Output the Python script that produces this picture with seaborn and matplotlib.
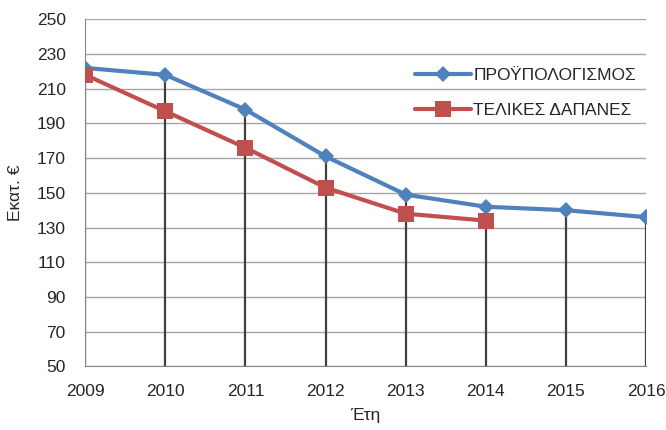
import numpy as np
import pandas as pd
import seaborn as sns
import matplotlib.pyplot as plt

years = [2009, 2010, 2011, 2012, 2013, 2014, 2015, 2016]
budget = [222, 218, 198, 171, 149, 142, 140, 136]
spent_years = [2009, 2010, 2011, 2012, 2013, 2014]
spent = [218, 197, 176, 153, 138, 134]
labels = ['ΠΡΟΫΠΟΛΟΓΙΣΜΟΣ', 'ΤΕΛΙΚΕΣ ΔΑΠΑΝΕΣ']

sns.set_style('white')
plt.rcParams['font.family'] = ['Liberation Sans', 'DejaVu Sans']

df = pd.concat([
    pd.DataFrame({'year': years, 'value': budget, 'series': labels[0]}),
    pd.DataFrame({'year': spent_years, 'value': spent, 'series': labels[1]}),
])

fig, ax = plt.subplots(figsize=(6.66, 4.3), dpi=100)
fig.subplots_adjust(left=0.128, right=0.97, top=0.955, bottom=0.148)

# drop lines from the highest point of each year down to the axis
tops = df.groupby('year')['value'].max()
ax.vlines(tops.index, 50, tops.values, color='#404040', lw=1.6, zorder=2)

sns.lineplot(data=df, x='year', y='value', hue='series', style='series',
             markers={labels[0]: 'D', labels[1]: 's'}, dashes=False,
             palette={labels[0]: '#4F81BD', labels[1]: '#C0504D'},
             markersize=8, markeredgewidth=0, lw=3, ax=ax, zorder=3)
for ln in ax.lines:
    if ln.get_marker() == 's':
        ln.set_markersize(11)

ax.set_xlim(2009, 2016)
ax.set_ylim(50, 250)
ax.set_yticks(np.arange(50, 251, 20))
ax.set_xticks(years)
ax.yaxis.grid(True, color='#A6A6A6', lw=1)
ax.set_axisbelow(True)
for s in ['top', 'right']:
    ax.spines[s].set_visible(False)
ax.spines['left'].set_color('#868686')
ax.spines['bottom'].set_color('#868686')
ax.tick_params(axis='both', labelsize=12.5, length=0)
ax.tick_params(axis='x', pad=13)
ax.tick_params(axis='y', pad=14)

ax.set_xlabel('Έτη', fontsize=12.5, labelpad=6)
ax.set_ylabel('Εκατ. €', fontsize=12.5, labelpad=10)

ax.legend(title=None, frameon=False, fontsize=12.5, handlelength=3.2,
          loc='upper right', bbox_to_anchor=(1.01, 0.905), labelspacing=1.15,
          handletextpad=0.15)

plt.savefig('out.png', dpi=100)
